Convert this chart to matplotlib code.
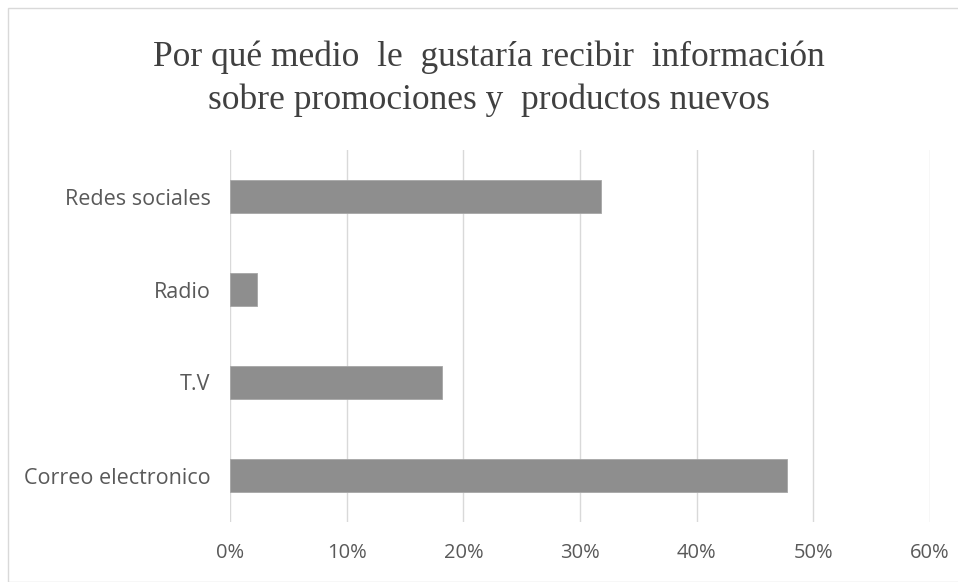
import matplotlib
matplotlib.use('Agg')
from matplotlib import pyplot as plt
from matplotlib.patches import Rectangle
import matplotlib.ticker as mtick

categories = ['Correo electronico', 'T.V', 'Radio', 'Redes sociales']
shares = [47.7, 18.2, 2.3, 31.8]
ticks = [0, 10, 20, 30, 40, 50, 60]

title = 'Por qué medio  le  gustaría recibir  información\nsobre promociones y  productos nuevos'


def create_image():

    fig = plt.figure(figsize=(9.58, 5.82), dpi=100)
    ax = fig.add_axes([230 / 958, 60 / 582, 700 / 958, 372 / 582])

    # frame round the whole chart
    fig.patches.append(Rectangle((8 / 958, 0), 1, 1 - 8 / 582, transform=fig.transFigure,
                                 fill=False, edgecolor='#d9d9d9', linewidth=1))

    ax.barh(range(len(categories)), shares, height=0.36, color='#8e8e8e',
            edgecolor='#a6a6a6', linewidth=0.6, zorder=3)
    ax.set_xlim(0, 60)
    ax.set_ylim(-0.5, len(categories) - 0.5)
    ax.set_xticks(ticks)
    ax.xaxis.set_major_formatter(mtick.PercentFormatter(decimals=0))
    ax.set_yticks(range(len(categories)))
    ax.set_yticklabels(categories)
    ax.grid(axis='x', color='#d9d9d9', linewidth=1, zorder=0)
    for side in ['top', 'right', 'bottom', 'left']:
        ax.spines[side].set_visible(False)
    ax.tick_params(length=0, labelcolor='#595959')
    ax.tick_params(axis='y', pad=14, labelsize=15.5)
    ax.tick_params(axis='x', pad=15, labelsize=14.5)
    for lbl in ax.get_xticklabels() + ax.get_yticklabels():
        lbl.set_family(['Open Sans', 'DejaVu Sans'])

    fig.text(489 / 958, 1 - 79 / 582, title, ha='center', va='center',
             fontsize=25.5, color='#404040', family='Liberation Serif', linespacing=1.38)

    plt.savefig('out.png', dpi=100)


if __name__ == '__main__':
    create_image()
